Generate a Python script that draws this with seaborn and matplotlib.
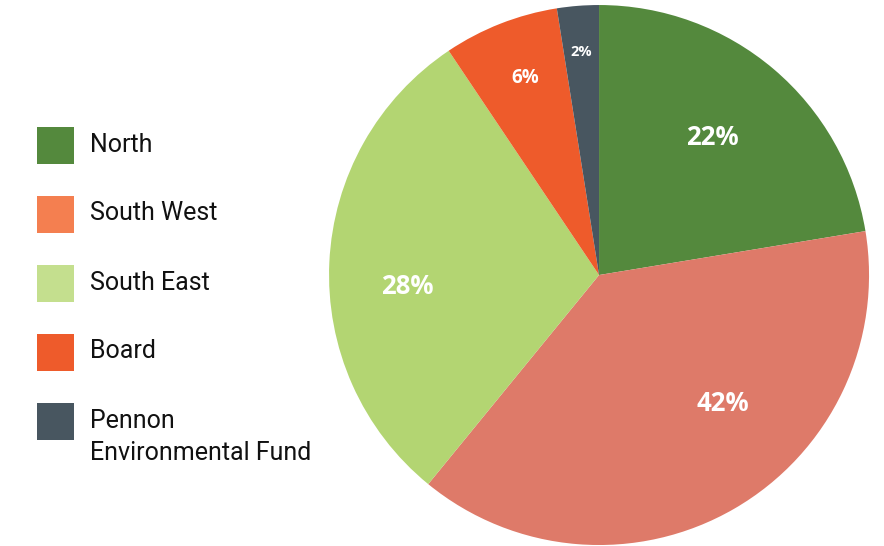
import numpy as np
import matplotlib
matplotlib.use("Agg")
import matplotlib.pyplot as plt
import seaborn as sns
from matplotlib.patches import Rectangle

# Data (wedge sizes, labels as printed)
regions = ["North", "South West", "South East", "Board", "Pennon\nEnvironmental Fund"]
shares = [22.4, 38.5, 29.7, 6.9, 2.5]
share_labels = ["22%", "42%", "28%", "6%", "2%"]

pie_colors = ["#54893d", "#de7a69", "#b3d572", "#ee5b2b", "#485660"]
legend_colors = ["#54893d", "#f47f50", "#c4df8e", "#ee5b2b", "#485660"]

sns.set_theme(style="white")
plt.rcParams["font.family"] = ["Open Sans", "DejaVu Sans"]

W, H = 884, 546
fig = plt.figure(figsize=(W / 100, H / 100), dpi=100)
ax = fig.add_axes([0.3722, 0.0018, 0.6109, 0.989])

wedges, _ = ax.pie(shares, colors=pie_colors, startangle=90, counterclock=False,
                   radius=1, wedgeprops=dict(linewidth=0))
ax.set_xlim(-1, 1)
ax.set_ylim(-1, 1)
ax.set_aspect("equal")
ax.axis("off")

#label placement (radial fraction, angle shift, font size)
label_r = [0.66, 0.66, 0.71, 0.78, 0.83]
label_shift = [1, 14, 6, -1, 0]
label_size = [18.5, 18.5, 18.5, 13.5, 10.5]
for w, txt, r, sh, fs in zip(wedges, share_labels, label_r, label_shift, label_size):
    ang = np.deg2rad((w.theta1 + w.theta2) / 2 + sh)
    ax.text(r * np.cos(ang), r * np.sin(ang), txt, color="white", fontsize=fs,
            fontweight="bold", ha="center", va="center")

#legend drawn by hand in pixel coords so the swatch sits on the first line
lax = fig.add_axes([0, 0, 1, 1], zorder=-1)
lax.set_xlim(0, W)
lax.set_ylim(H, 0)
lax.axis("off")
top, step, size = 127, 69, 37
for i, (name, c) in enumerate(zip(regions, legend_colors)):
    y = top + i * step
    lax.add_patch(Rectangle((37, y), size, size, facecolor=c, edgecolor="none"))
    for k, line in enumerate(name.split("\n")):
        lax.text(90, y + size / 2 - 1 + k * 32, line, fontsize=18, color="#111111",
                 family=["Roboto", "DejaVu Sans"], ha="left", va="center")

plt.savefig("out.png", dpi=100)
